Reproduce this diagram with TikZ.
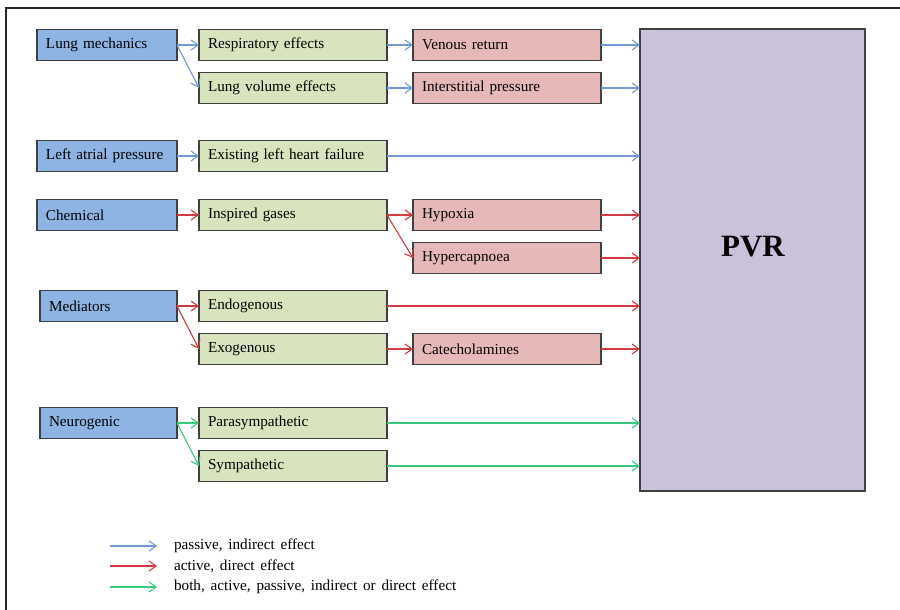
\documentclass[tikz,border=0pt]{standalone}
\usepackage{fontspec}
\setmainfont{Liberation Serif}
\usepackage{tikz}
\usetikzlibrary{
  positioning,
  arrows.meta
}
\definecolor{causeblue}{RGB}{141,180,227}
\definecolor{routegreen}{RGB}{215,228,189}
\definecolor{effectred}{RGB}{230,185,184}
\definecolor{pvrpurple}{RGB}{204,193,218}
\definecolor{passiveline}{RGB}{115,153,212}
\definecolor{activeline}{RGB}{212,58,62}
\definecolor{bothline}{RGB}{58,200,122}
\newcommand{\boxfont}{\fontsize{7.6}{9}\selectfont\spaceskip=0.38em plus 0.1em\relax}
\tikzset{
  >={Straight Barb[length=3.5pt,width=5pt]},
  box/.style={draw=black!75, line width=0.6pt, minimum height=15.5pt,
    inner xsep=4.5pt, inner ysep=0pt, outer sep=0pt, align=left, font=\boxfont},
  srcbox/.style={box, fill=causeblue, text width=61pt},
  midbox/.style={box, fill=routegreen, text width=85pt},
  endbox/.style={box, fill=effectred, text width=85pt},
  keytext/.style={anchor=west, font=\boxfont},
  passive/.style={->, passiveline, line width=0.55pt},
  active/.style={->, activeline, line width=0.55pt},
  both/.style={->, bothline, line width=0.55pt}
}

\begin{document}
\begin{tikzpicture}[x=0.5pt, y=-0.5pt, node distance=11pt]
  \useasboundingbox (0,0) rectangle (900,610);
  \draw[black!85, line width=0.8pt] (6,610) -- (6,8) -- (900,8);

  % target
  \node[draw=black!75, line width=0.6pt, outer sep=0pt, fill=pvrpurple,
    minimum width=112.5pt, minimum height=231pt] (pvr) at (752.5,260) {};
  \node[font=\fontsize{15.5}{18}\selectfont\bfseries] (pvrtext) at (753,247) {PVR};

  % lung mechanics
  \node[srcbox] (lung) at (107,45) {Lung mechanics};
  \node[midbox, right=of lung] (resp) {Respiratory effects};
  \node[midbox, below=6pt of resp] (vol) {Lung volume effects};
  \node[endbox, right=13pt of resp] (venous) {Venous return};
  \node[endbox, right=13pt of vol] (inter) {Interstitial pressure};

  % left atrial pressure
  \node[srcbox] (atrial) at (107,156) {Left atrial pressure};
  \node[midbox, right=of atrial] (failure) {Existing left heart failure};

  % chemical
  \node[srcbox] (chem) at (107,215) {Chemical};
  \node[midbox, right=of chem] (gases) {Inspired gases};
  \node[endbox, right=13pt of gases] (hypoxia) {Hypoxia};
  \node[endbox, below=6pt of hypoxia] (hypercap) {Hypercapnoea};

  % mediators
  \node[srcbox, text width=59.5pt] (med) at (108.5,306) {Mediators};
  \node[midbox, right=of med] (endo) {Endogenous};
  \node[midbox, below=6pt of endo] (exo) {Exogenous};
  \node[endbox, right=13pt of exo] (catech) {Catecholamines};

  % neurogenic
  \node[srcbox, text width=59.5pt] (neuro) at (108.5,423) {Neurogenic};
  \node[midbox, right=of neuro] (para) {Parasympathetic};
  \node[midbox, below=6pt of para] (symp) {Sympathetic};

  \draw[passive] (lung.east) -- (resp.west);
  \draw[passive] (lung.east) -- (vol.west);
  \draw[passive] (resp) -- (venous);
  \draw[passive] (vol) -- (inter);
  \draw[passive] (venous) -- (venous -| pvr.west);
  \draw[passive] (inter) -- (inter -| pvr.west);
  \draw[passive] (atrial) -- (failure);
  \draw[passive] (failure) -- (failure -| pvr.west);

  \draw[active] (chem) -- (gases);
  \draw[active] (gases.east) -- (hypoxia.west);
  \draw[active] (gases.east) -- (hypercap.west);
  \draw[active] (hypoxia) -- (hypoxia -| pvr.west);
  \draw[active] (hypercap) -- (hypercap -| pvr.west);
  \draw[active] (med.east) -- (endo.west);
  \draw[active] (med.east) -- (exo.west);
  \draw[active] (endo) -- (endo -| pvr.west);
  \draw[active] (exo) -- (catech);
  \draw[active] (catech) -- (catech -| pvr.west);

  \draw[both] (neuro.east) -- (para.west);
  \draw[both] (neuro.east) -- (symp.west);
  \draw[both] (para) -- (para -| pvr.west);
  \draw[both] (symp) -- (symp -| pvr.west);

  % legend
  \node[keytext] (keypassive) at (167,546) {passive, indirect effect};
  \node[keytext] (keyactive) at (167,566) {active, direct effect};
  \node[keytext] (keyboth) at (167,587) {both, active, passive, indirect or direct effect};
  \draw[passive] ([xshift=-28.5pt]keypassive.west) -- ([xshift=-5pt]keypassive.west);
  \draw[active] ([xshift=-28.5pt]keyactive.west) -- ([xshift=-5pt]keyactive.west);
  \draw[both] ([xshift=-28.5pt]keyboth.west) -- ([xshift=-5pt]keyboth.west);
\end{tikzpicture}
\end{document}
